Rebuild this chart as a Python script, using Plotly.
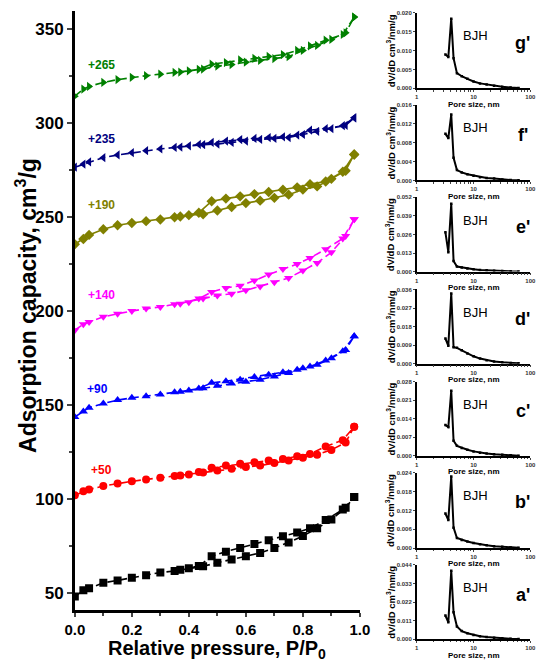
import plotly.graph_objects as go

# relative pressure points, adsorption and desorption branches
p_ads = [0.0, 0.03, 0.05, 0.10, 0.15, 0.20, 0.25, 0.30, 0.35, 0.40, 0.45,
         0.50, 0.55, 0.60, 0.65, 0.70, 0.75, 0.80, 0.85, 0.90, 0.95, 0.98]
p_des = [0.98, 0.94, 0.88, 0.825, 0.78, 0.73, 0.68, 0.63, 0.58, 0.53, 0.48, 0.435, 0.37]

# adsorbed volume as plotted (offset already included), cm3/g
a_ads = [48.0, 51.3, 52.4, 55.3, 56.6, 58.0, 59.3, 60.8, 61.6, 63.0, 64.1,
         66.0, 67.7, 69.5, 71.2, 73.9, 76.8, 80.2, 84.3, 89.0, 95.2, 101.0]
a_des = [101.0, 94.3, 88.7, 84.3, 82.1, 80.1, 78.0, 75.9, 73.8, 71.9, 69.5, 64.2, 62.2]
b_ads = [101.9, 104.0, 105.0, 106.8, 108.2, 109.3, 110.3, 111.2, 112.1, 113.0, 114.0,
         115.1, 116.0, 116.9, 117.7, 119.0, 120.4, 121.8, 123.5, 126.0, 130.0, 138.4]
b_des = [138.4, 131.2, 127.8, 123.9, 122.6, 121.2, 120.4, 119.5, 118.6, 117.7, 116.5, 114.2, 112.4]
c_ads = [143.5, 146.4, 148.5, 150.7, 152.5, 153.7, 154.6, 155.5, 156.7, 157.6, 158.8,
         160.1, 161.3, 162.3, 163.4, 165.1, 166.9, 169.5, 171.3, 174.8, 179.2, 186.5]
c_des = [186.5, 178.5, 173.6, 170.4, 168.6, 167.3, 166.0, 164.8, 163.4, 162.5, 161.7, 158.7, 157.0]
d_ads = [189.7, 192.9, 194.1, 196.8, 198.5, 199.9, 201.2, 202.0, 203.5, 204.6, 206.5,
         208.2, 209.1, 210.9, 213.0, 215.2, 217.5, 221.4, 225.5, 231.1, 239.8, 248.7]
d_des = [248.7, 238.5, 232.8, 228.1, 224.9, 222.3, 219.3, 216.1, 213.3, 212.2, 210.0, 206.5, 203.8]
e_ads = [235.4, 238.2, 240.4, 243.4, 245.5, 246.7, 247.7, 248.6, 249.8, 250.9, 251.4,
         253.4, 255.2, 257.3, 258.6, 260.1, 261.8, 264.5, 266.2, 270.2, 274.5, 283.2]
e_des = [283.2, 274.0, 268.8, 267.4, 265.7, 264.4, 263.2, 262.1, 260.9, 259.7, 258.3, 252.2, 250.2]
f_ads = [276.4, 278.0, 279.2, 281.5, 282.9, 284.1, 285.2, 286.1, 286.9, 287.8, 288.4,
         288.7, 289.6, 290.3, 291.2, 291.7, 292.2, 293.8, 295.5, 296.9, 298.7, 302.7]
f_des = [302.7, 298.5, 296.9, 296.1, 293.5, 292.6, 292.2, 291.7, 291.1, 290.3, 289.6, 288.5, 287.1]
g_ads = [314.2, 318.0, 319.4, 321.5, 323.0, 324.2, 325.1, 325.9, 326.8, 327.7, 328.6,
         330.2, 331.0, 332.3, 333.2, 334.2, 335.2, 338.5, 341.2, 344.4, 347.9, 356.3]
g_des = [356.3, 347.0, 344.0, 340.9, 338.5, 336.3, 335.3, 334.3, 333.5, 332.1, 331.2, 328.5, 327.0]

samples = ["a", "b", "c", "d", "e", "f", "g"]
offsets = ["", "+50", "+90", "+140", "+190", "+235", "+265"]
offset_pos = [None, (0.095, 115.4), (0.078, 158.6), (0.095, 208.2),
              (0.095, 256.2), (0.095, 291.5), (0.095, 331.0)]
end_y = [96.4, 137.0, 184.5, 248.8, 283.0, 305.7, 352.0]
colors = ["#000000", "#FF0000", "#0000FF", "#FF00FF", "#808000", "#000080", "#008000"]
symbols = ["square", "circle", "triangle-up", "triangle-down", "diamond",
           "triangle-left", "triangle-right"]
dashes = ["8px,4px", "8px,4px", "8px,4px", "8px,4px", "solid", "8px,4px", "8px,4px"]
ads = [a_ads, b_ads, c_ads, d_ads, e_ads, f_ads, g_ads]
des = [a_des, b_des, c_des, d_des, e_des, f_des, g_des]

# BJH pore size distributions (nm, cm3/nm/g)
pore = [3.2, 3.6, 4.05, 4.45, 5.1, 6.2, 7.8, 10, 13, 17, 23, 32, 45, 62]
bjh_g = [0.0090, 0.0083, 0.0185, 0.0080, 0.0040, 0.0032, 0.0025, 0.0018, 0.0013, 0.0010, 0.0007, 0.0004, 0.0002, 0.0001]
bjh_f = [0.0099, 0.0090, 0.0140, 0.0048, 0.0022, 0.0017, 0.0013, 0.0010, 0.0007, 0.0005, 0.0004, 0.0002, 0.0001, 0.00005]
bjh_e = [0.0275, 0.0136, 0.0474, 0.0074, 0.0035, 0.0028, 0.0022, 0.0016, 0.0012, 0.0009, 0.0006, 0.0004, 0.0002, 0.0001]
bjh_d = [0.0122, 0.0087, 0.0340, 0.0080, 0.0077, 0.0065, 0.0050, 0.0036, 0.0025, 0.0017, 0.0011, 0.0007, 0.0004, 0.0002]
bjh_c = [0.0116, 0.0109, 0.0245, 0.0057, 0.0038, 0.0030, 0.0023, 0.0017, 0.0012, 0.0009, 0.0006, 0.0004, 0.0002, 0.0001]
bjh_b = [0.0110, 0.0089, 0.0228, 0.0065, 0.0032, 0.0026, 0.0021, 0.0016, 0.0012, 0.0009, 0.0006, 0.0004, 0.0002, 0.0001]
bjh_a = [0.0140, 0.0100, 0.0405, 0.0159, 0.0075, 0.0048, 0.0035, 0.0025, 0.0018, 0.0013, 0.0009, 0.0005, 0.0003, 0.0001]

inset_names = ["g'", "f'", "e'", "d'", "c'", "b'", "a'"]
inset_data = [bjh_g, bjh_f, bjh_e, bjh_d, bjh_c, bjh_b, bjh_a]
inset_ticks = [
    [0.000, 0.005, 0.010, 0.015, 0.020],
    [0.000, 0.004, 0.008, 0.012, 0.016],
    [0.000, 0.013, 0.026, 0.039, 0.052],
    [0.000, 0.009, 0.018, 0.027, 0.036],
    [0.000, 0.007, 0.014, 0.021, 0.028],
    [0.000, 0.006, 0.012, 0.018, 0.024],
    [0.000, 0.011, 0.022, 0.033, 0.044],
]
log_minor = [2, 3, 4, 5, 6, 7, 8, 9, 20, 30, 40, 50, 60, 70, 80, 90]

# the page body keeps its default 8px margin, so the figure is a bit smaller
# and every position below is given in window pixels, then shifted
PAD = 8
W, H = 550 - PAD, 665 - PAD
FONT = "Arial, Liberation Sans, sans-serif"


def fx(px):
    return (px - PAD) / W


def fy(py):
    return min(1.0, (H - (py - PAD)) / H)


def note(text, x, y, size, bold=True, angle=0, color="black"):
    return dict(text=text, xref="paper", yref="paper", x=fx(x), y=fy(y),
                xanchor="center", yanchor="middle", showarrow=False, textangle=angle,
                font=dict(size=size, weight="bold" if bold else "normal", color=color))


fig = go.Figure()

for i in range(len(samples)):
    fig.add_trace(go.Scatter(
        x=p_ads + p_des, y=ads[i] + des[i], mode="lines+markers",
        line=dict(color=colors[i], width=1.6, dash=dashes[i]),
        marker=dict(symbol=symbols[i], size=8, color=colors[i]),
        showlegend=False, xaxis="x", yaxis="y"))

layout = dict(
    width=W, height=H, margin=dict(l=0, r=0, t=0, b=0),
    paper_bgcolor="white", plot_bgcolor="white", showlegend=False,
    font=dict(family=FONT, color="black"),
    xaxis=dict(domain=[fx(67), fx(363)], range=[0, 1.0], dtick=0.2, tick0=0,
               tickformat=".1f", showline=True, linecolor="black", linewidth=2.5,
               ticks="outside", ticklen=4, tickwidth=2, showgrid=False, zeroline=False,
               minor=dict(dtick=0.1, ticks="outside", ticklen=3, tickwidth=1.5),
               tickfont=dict(size=15, weight="bold"), anchor="y"),
    yaxis=dict(domain=[fy(613), fy(8)], range=[40.6, 359.5], dtick=50, tick0=50,
               showline=True, linecolor="black", linewidth=2.5,
               ticks="outside", ticklen=5, tickwidth=2, showgrid=False, zeroline=False,
               minor=dict(dtick=25, ticks="outside", ticklen=3, tickwidth=1.5),
               tickfont=dict(size=17, weight="bold"), anchor="x"),
)

annotations = [
    note("Relative pressure, P/P<sub>0</sub>", 215, 652, 20),
    note("Adsorption capacity, cm<sup>3</sup>/g", 17, 305, 23, angle=-90),
]
for i in range(len(samples)):
    annotations.append(dict(text=samples[i], xref="x", yref="y", x=1.04, y=end_y[i],
                            showarrow=False, xanchor="center", yanchor="middle",
                            font=dict(size=17, weight="bold")))
    if offset_pos[i]:
        annotations.append(dict(text=offsets[i], xref="x", yref="y",
                                x=offset_pos[i][0], y=offset_pos[i][1], showarrow=False,
                                xanchor="center", yanchor="middle",
                                font=dict(size=12, weight="bold", color=colors[i])))

tops = [10, 103, 196, 289, 382, 474, 567]
bottoms = [86, 179, 271, 364, 457, 550, 642]
for k in range(len(inset_names)):
    n = k + 2
    xa, ya = "x%d" % n, "y%d" % n
    fig.add_trace(go.Scatter(
        x=pore, y=inset_data[k], mode="lines+markers",
        line=dict(color="black", width=2), marker=dict(symbol="square", size=2.5, color="black"),
        showlegend=False, xaxis=xa, yaxis=ya))
    yt = inset_ticks[k]
    layout["xaxis%d" % n] = dict(
        domain=[fx(422), fx(540)], type="log", range=[0, 2], tickvals=[1, 10, 100],
        ticktext=["1", "10", "100"], showline=True, linecolor="black", linewidth=1.5,
        ticks="outside", ticklen=2, tickwidth=1, showgrid=False, zeroline=False,
        minor=dict(tickvals=log_minor, ticks="outside", ticklen=1.5, tickwidth=0.8),
        tickfont=dict(size=6, weight="bold", color="#333333"), anchor=ya)
    layout["yaxis%d" % n] = dict(
        domain=[fy(bottoms[k]), fy(tops[k])], range=[0, yt[-1]],
        tickvals=yt, tickformat=".3f", showline=True, linecolor="black", linewidth=1.5,
        ticks="outside", ticklen=2, tickwidth=1, showgrid=False, zeroline=False,
        tickfont=dict(size=6, weight="bold", color="#333333"), anchor=xa)
    annotations += [
        note("Pore size, nm", 481, bottoms[k] + 16, 8),
        note("dV/dD cm<sup>3</sup>/nm/g", 395, (tops[k] + bottoms[k]) / 2, 9.5, angle=-90),
        note("BJH", 483, tops[k] + 23, 13, bold=False),
        note(inset_names[k], 532, tops[k] + 30, 18),
    ]

layout["annotations"] = annotations
fig.update_layout(**layout)
fig.write_html("out.html", config={"displayModeBar": False})
